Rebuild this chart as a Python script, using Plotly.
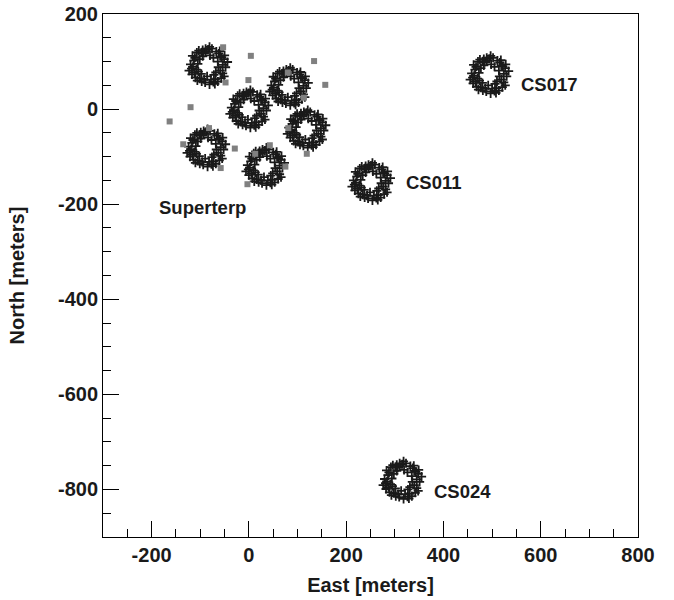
import plotly.graph_objects as go

# Station centres (East, North) in meters
station_names = ["ST-A", "ST-B", "ST-C", "ST-D", "ST-E", "ST-F", "CS011", "CS017", "CS024"]
station_east = [-84, 0, 82, 118, -88, 33, 251, 494, 315]
station_north = [91, 0, 47, -42, -82, -121, -153, 72, -781]

# HBA tile offsets within one field (meters, relative to field centre)
tile_dx = [0, 4, -5, 3, 17, 22, 11, 28, 33, 20, 34, 30, 36, 21, 30, 16, 33, 15, 20, 11, 12,
           -2, 3, -6, -17, -22, -13, -14, -28, -33, -20, -31, -36, -21, -34, -27, -32, -17,
           -14, -19, -11, -11,
           8, -9, 24, 25, 40, 25, 27, 6, -8, -26, -24, -29, -39, -23, -5, 14]
tile_dy = [34, 22, 30, 40, 30, 26, 17, 18, 14, 9, 22, 2, -3, -3, -16, -14, -22, -28, -33, -34, -19,
           -22, -39, -35, -27, -31, -33, -17, -14, -18, -12, -2, 3, 4, -6, 17, 21, 14,
           28, 32, 33, 20,
           36, 27, 31, 20, 8, -10, -26, -29, -29, -25, -8, 11, -10, 28, 36, -38]

# Grey square antennas
sq_east = [-53, 4, 134, 157, -48, -1, 80, 113, -120, -163, -82, 81, -135, -29, 119, 43, 13, -58, 75, -3]
sq_north = [130, 112, 101, 51, 56, 61, 77, 24, 4, -26, -40, -40, -74, -83, -94, -76, -94, -124, -121, -158]

# Labels
label_text = ["CS017", "CS011", "CS024", "Superterp"]
label_east = [555, 319, 376, -95]
label_north = [51, -155, -804, -208]
label_anchor = ["left", "left", "left", "center"]

# Tick labels
x_tickvals = [-200, 0, 200, 400, 600, 800]
x_ticktext = ["-200", "0", "200", "400", "600", "800"]
y_tickvals = [-800, -600, -400, -200, 0, 200]
y_ticktext = ["-800", "-600", "-400", "-200", "0", "200"]

xs, ys = [], []
for cx, cy in zip(station_east, station_north):
    for dx, dy in zip(tile_dx, tile_dy):
        xs.append(cx + dx)
        ys.append(cy + dy)

fig = go.Figure()
fig.add_trace(go.Scatter(
    x=xs, y=ys, mode="markers",
    marker=dict(symbol="cross-thin", size=6.5, color="#1a1a1a",
                line=dict(width=1.8, color="#1a1a1a")),
    showlegend=False, hoverinfo="skip"))
fig.add_trace(go.Scatter(
    x=sq_east, y=sq_north, mode="markers",
    marker=dict(symbol="square", size=6, color="#808080", line=dict(width=0)),
    showlegend=False, hoverinfo="skip"))

font_b = dict(family="Liberation Sans, Arial, sans-serif", size=20, color="#1a1a1a", weight="bold")

for t, x, y, a in zip(label_text, label_east, label_north, label_anchor):
    fig.add_annotation(x=x, y=y, xref="x", yref="y", text=t, showarrow=False,
                       xanchor=a, yanchor="middle", font=dict(font_b, size=18.5))

axis_common = dict(
    showgrid=False, zeroline=False, showline=True, linecolor="black", linewidth=1,
    mirror=True, ticks="inside", ticklen=16, tickwidth=1, tickcolor="black",
    tickfont=font_b, tickmode="array",
    minor=dict(ticks="inside", ticklen=8, tick0=0, dtick=50, tickmode="linear",
               tickcolor="black", tickwidth=1, showgrid=False),
)

fig.update_xaxes(range=[-300, 800], tickvals=x_tickvals, ticktext=x_ticktext,
                 title=dict(text="East [meters]", font=font_b, standoff=12),
                 **axis_common)
fig.update_yaxes(range=[-900, 200], tickvals=y_tickvals, ticktext=y_ticktext,
                 title=dict(text="North [meters]", font=font_b, standoff=27),
                 **axis_common)

fig.update_layout(
    width=674, height=600,
    margin=dict(l=103, r=36, t=14, b=63, autoexpand=False),
    paper_bgcolor="white", plot_bgcolor="white",
)

fig.write_html("out.html", config={"displayModeBar": False},
               post_script="document.body.style.margin='0';")
